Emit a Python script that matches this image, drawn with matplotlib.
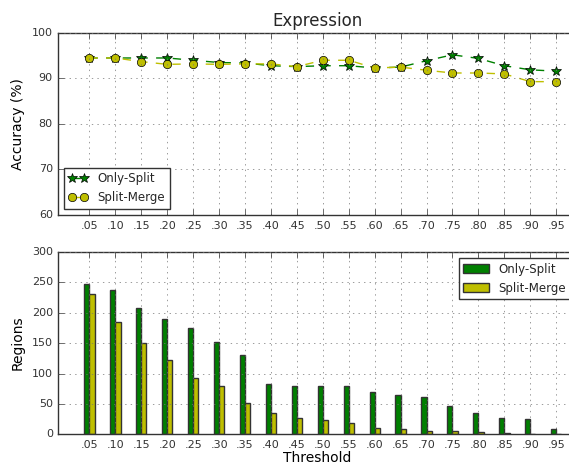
import matplotlib
matplotlib.use("Agg")
import matplotlib.pyplot as plt
import numpy as np

plt.style.use("classic")

thresholds = [.05, .10, .15, .20, .25, .30, .35, .40, .45, .50,
              .55, .60, .65, .70, .75, .80, .85, .90, .95]
tick_labels = [".05", ".10", ".15", ".20", ".25", ".30", ".35", ".40", ".45", ".50",
               ".55", ".60", ".65", ".70", ".75", ".80", ".85", ".90", ".95"]

acc_only_split = [94.5, 94.5, 94.5, 94.5, 94.0, 93.5, 93.4, 92.8, 92.6, 92.8,
                  92.8, 92.3, 92.5, 93.9, 95.2, 94.4, 92.8, 91.9, 91.6]
acc_split_merge = [94.5, 94.5, 93.7, 93.1, 93.2, 93.1, 93.2, 93.2, 92.6, 94.0,
                   94.0, 92.3, 92.5, 91.8, 91.2, 91.2, 91.0, 89.3, 89.3]

reg_only_split = [248, 238, 208, 190, 175, 152, 131, 83, 79, 79,
                  79, 70, 65, 61, 46, 35, 27, 25, 9]
reg_split_merge = [231, 185, 151, 122, 92, 79, 52, 35, 27, 23,
                   19, 11, 8, 5, 5, 4, 1.5, 1, 1]

x = np.array(thresholds)
w = 0.01

plt.rcParams["grid.color"] = "0.45"
plt.rcParams["grid.linestyle"] = (0, (1, 3))
plt.rcParams["axes.edgecolor"] = "0.2"
plt.rcParams["text.color"] = "0.15"
plt.rcParams["xtick.color"] = "0.2"
plt.rcParams["ytick.color"] = "0.2"

fig = plt.figure(figsize=(5.69, 4.68), dpi=100)
fig.patch.set_facecolor("white")

ax1 = fig.add_axes([0.1025, 0.5406, 0.9115, 0.389])
ax1.plot(x, acc_only_split, "g*--", markersize=7, label="Only-Split")
ax1.plot(x, acc_split_merge, "yo--", markersize=6, label="Split-Merge")
ax1.set_ylim(60, 100)
ax1.set_yticks([60, 70, 80, 90, 100])
ax1.set_xlim(-0.01, 0.99)
ax1.set_xticks(x)
ax1.set_xticklabels(tick_labels)
ax1.set_ylabel("Accuracy (%)", fontsize=10)
ax1.set_title("Expression", fontsize=12)
ax1.grid(True)
ax1.tick_params(labelsize=8)
ax1.legend(loc="lower left", fontsize=8.5, numpoints=2, handlelength=1.6)

ax2 = fig.add_axes([0.1025, 0.072, 0.9115, 0.3895])
ax2.bar(x - w, reg_only_split, w, align="edge", color="g", edgecolor="0.2",
        label="Only-Split")
ax2.bar(x, reg_split_merge, w, align="edge", color="y", edgecolor="0.2",
        label="Split-Merge")
ax2.set_ylim(0, 300)
ax2.set_yticks([0, 50, 100, 150, 200, 250, 300])
ax2.set_xlim(-0.01, 0.99)
ax2.set_xticks(x)
ax2.set_xticklabels(tick_labels)
ax2.set_ylabel("Regions", fontsize=10)
ax2.set_xlabel("Threshold", fontsize=10, labelpad=1)
ax2.grid(True)
ax2.tick_params(labelsize=8)
ax2.legend(loc="upper right", fontsize=8.5, handlelength=2.2)

fig.savefig("out.png", dpi=100, facecolor="white")
